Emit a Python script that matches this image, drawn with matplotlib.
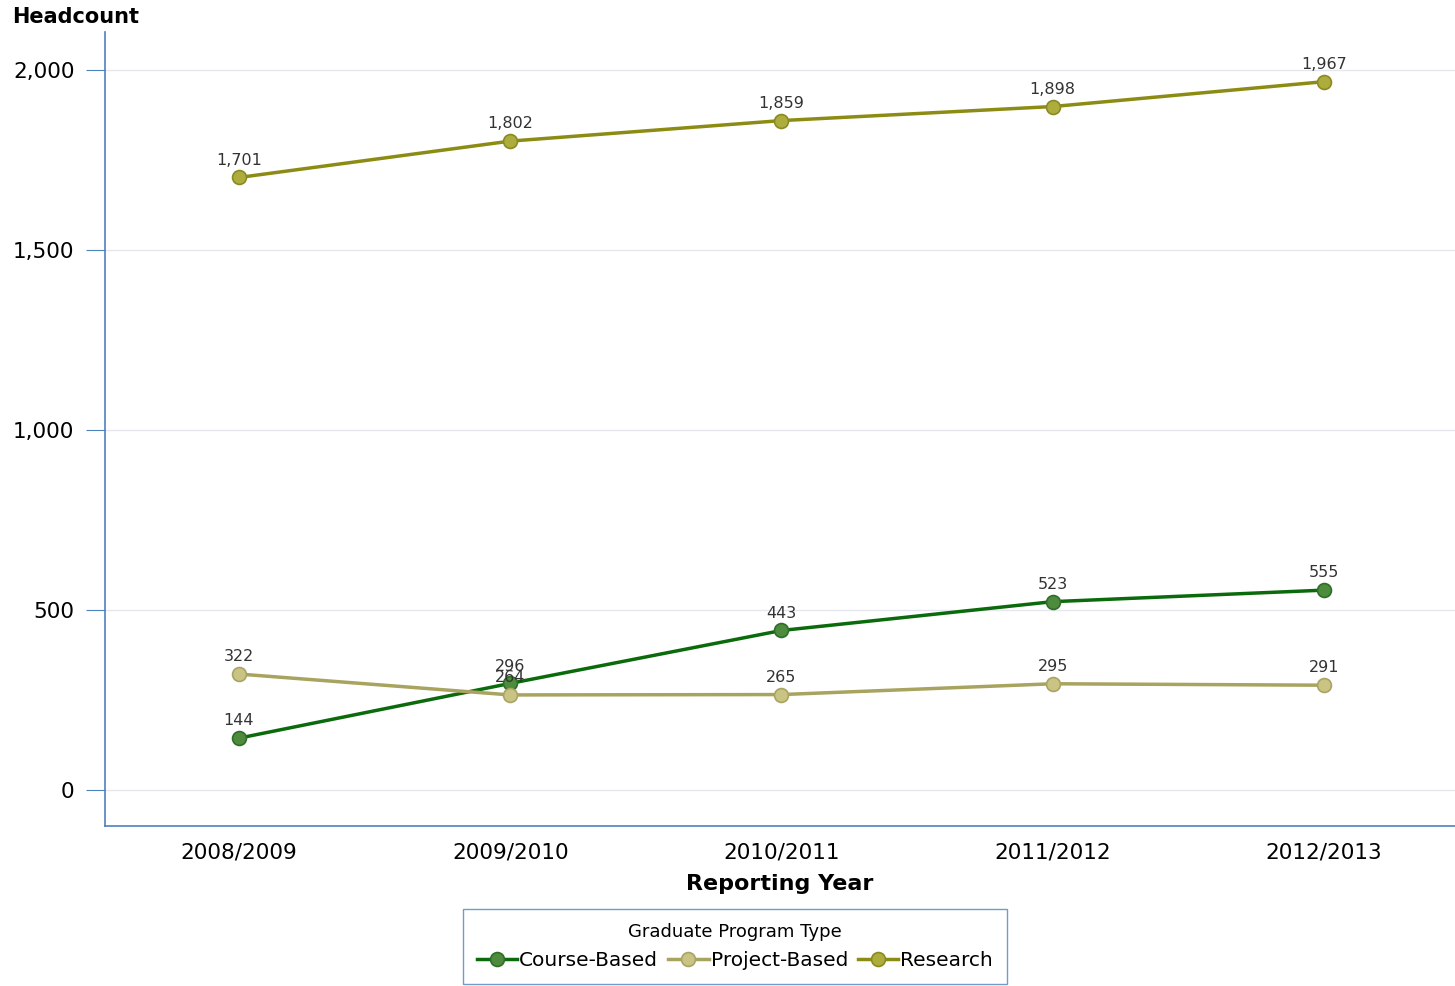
import matplotlib
matplotlib.use("Agg")
import matplotlib.pyplot as plt
from matplotlib.ticker import FuncFormatter

# 数据
years = ["2008/2009", "2009/2010", "2010/2011", "2011/2012", "2012/2013"]
course_based = [144, 296, 443, 523, 555]
project_based = [322, 264, 265, 295, 291]
research = [1701, 1802, 1859, 1898, 1967]

series = [
    ("Course-Based", course_based, "#0b6a0b", "#4e8b3c", "#2f6e2a"),
    ("Project-Based", project_based, "#a8a35e", "#c9c484", "#a9a462"),
    ("Research", research, "#8c8c14", "#adad3e", "#8a8a22"),
]

axis_blue = "#4f81bd"

fig = plt.figure(figsize=(14.55, 9.86), dpi=100)
ax = fig.add_axes([105 / 1455, 1 - 826 / 986, 1350 / 1455, 794 / 986])

x = list(range(len(years)))
for name, vals, line_c, face_c, edge_c in series:
    ax.plot(x, vals, color=line_c, lw=2.5, marker="o", ms=10,
            markerfacecolor=face_c, markeredgecolor=edge_c, markeredgewidth=1.2,
            label=name, zorder=3)
    for xi, v in zip(x, vals):
        ax.annotate(f"{v:,}", (xi, v), xytext=(0, 7), textcoords="offset points",
                    ha="center", va="bottom", fontsize=11.5, color="#333333", zorder=4)

ax.set_xlim(-0.494, 4.483)
ax.set_ylim(-100, 2105)
ax.set_yticks([0, 500, 1000, 1500, 2000])
ax.yaxis.set_major_formatter(FuncFormatter(lambda v, p: f"{int(v):,}"))
ax.set_xticks(x)
ax.set_xticklabels(years)
ax.tick_params(axis="y", labelsize=15.5, length=14, color=axis_blue, pad=8)
ax.tick_params(axis="x", labelsize=15.5, length=0, pad=12)
ax.grid(axis="y", color="#e6e6ee", lw=1)
ax.set_axisbelow(True)

for s in ["top", "right"]:
    ax.spines[s].set_visible(False)
for s in ["left", "bottom"]:
    ax.spines[s].set_color(axis_blue)
    ax.spines[s].set_linewidth(1.2)

ax.set_xlabel("Reporting Year", fontsize=16, fontweight="bold", labelpad=8)
fig.text(12 / 1455, 1 - 17 / 986, "Headcount", fontsize=15, fontweight="bold",
         ha="left", va="center")

leg = fig.legend(loc="upper center", bbox_to_anchor=(735 / 1455, 1 - 909 / 986),
                 ncol=3, title="Graduate Program Type", fontsize=14.5,
                 title_fontsize=13, frameon=True, fancybox=False,
                 handlelength=2.0, handletextpad=0.1, columnspacing=0.5,
                 borderpad=0.7, borderaxespad=0)
leg.get_frame().set_edgecolor(axis_blue)
leg.get_frame().set_linewidth(1)

fig.savefig("out.png", dpi=100)
